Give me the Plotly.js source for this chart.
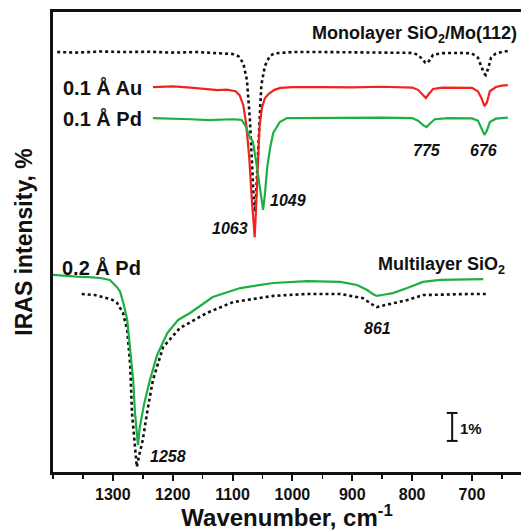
<!DOCTYPE html>
<html><head><meta charset="utf-8">
<script src="https://cdn.plot.ly/plotly-3.0.1.min.js"></script>
<style>html,body{margin:0;padding:0;overflow:hidden;background:#fff}</style>
</head><body><div id="chart" style="width:521px;height:531px"></div>
<script>
// Wavenumber (cm^-1) and intensity (% , offset stacked)
const monoX = [1393,1360,1320,1280,1240,1200,1160,1120,1100,1090,1082,1076,1071,1067,1064,1062,1059,1056,1052,1046,1038,1030,1000,950,900,850,800,790,783,778,775,771,765,750,720,700,690,684,680,677,673,668,660,650,640];
const monoY = [15.00,14.98,15.02,15.00,15.01,14.98,15.00,14.97,14.93,14.85,14.6,14.0,12.6,10.8,9.5,9.3,10.6,12.3,13.8,14.5,14.85,14.95,15.0,15.0,15.0,14.98,14.97,14.9,14.75,14.62,14.6,14.7,14.9,14.96,14.97,14.95,14.8,14.5,14.25,14.18,14.4,14.8,14.95,15.0,15.04];

const auX = [1233,1200,1170,1140,1125,1110,1095,1088,1082,1077,1072,1068,1065,1063,1061,1058,1055,1051,1046,1040,1030,1020,1000,950,900,850,800,790,783,777,772,765,750,720,700,690,684,679,675,670,660,650,640];
const auY = [13.75,13.77,13.73,13.68,13.64,13.66,13.6,13.45,13.1,12.4,11.2,9.8,8.8,8.39,9.3,11.0,12.3,13.0,13.35,13.5,13.65,13.72,13.75,13.75,13.74,13.76,13.73,13.65,13.5,13.36,13.5,13.68,13.73,13.74,13.72,13.6,13.35,13.07,13.2,13.6,13.75,13.8,13.82];

const pdX = [1233,1200,1170,1140,1120,1100,1085,1078,1072,1066,1060,1055,1051,1049,1046,1042,1037,1032,1021,1009,1000,950,900,850,800,790,782,776,770,762,740,700,690,684,679,675,670,660,640];
const pdY = [12.64,12.63,12.6,12.57,12.58,12.6,12.58,12.35,12.0,11.8,11.0,10.2,9.5,9.36,9.9,10.9,11.6,12.11,12.5,12.64,12.64,12.65,12.64,12.66,12.64,12.55,12.4,12.32,12.45,12.6,12.64,12.63,12.55,12.3,12.04,12.2,12.5,12.62,12.66];

const multiPdX = [1400,1380,1360,1340,1321,1305,1293,1288,1282,1276,1271,1266,1263,1260,1258,1255,1248,1238,1226,1209,1191,1171,1133,1087,1032,975,920,892,875,865,859,848,832,808,782,753,720,681];
const multiPdY = [7.04,7.0,6.98,6.96,6.93,6.86,6.6,6.45,6.0,5.43,4.4,3.29,2.1,1.3,0.96,1.6,2.4,3.29,4.18,4.96,5.43,5.68,6.25,6.57,6.75,6.82,6.79,6.68,6.5,6.35,6.29,6.33,6.39,6.57,6.79,6.86,6.88,6.89];

const multiX = [1352,1330,1310,1300,1293,1283,1276,1271,1268,1263,1260,1256,1250,1243,1233,1216,1188,1143,1099,1032,975,920,882,868,859,848,837,808,782,740,700,675];
const multiY = [6.36,6.32,6.21,6.14,6.04,5.68,5.07,3.82,2.1,0.89,0.18,0.6,1.14,2.1,3.29,4.46,5.14,5.68,6.07,6.29,6.36,6.36,6.21,6.0,5.89,5.95,6.0,6.14,6.32,6.35,6.36,6.36];

const majorTicks = [1300,1200,1100,1000,900,800,700];
const minorTicks = [1400,1350,1250,1150,1050,950,850,750,650];

const FONT = 'Liberation Sans, Arial, sans-serif';
const red = '#f0231e', green = '#1fae45';

const traces = [
  {x: monoX, y: monoY, mode:'lines', line:{color:'#111', width:2.6, dash:'dot'}},
  {x: auX, y: auY, mode:'lines', line:{color:red, width:2.2}},
  {x: pdX, y: pdY, mode:'lines', line:{color:green, width:2.2}},
  {x: multiX, y: multiY, mode:'lines', line:{color:'#111', width:2.6, dash:'dot'}},
  {x: multiPdX, y: multiPdY, mode:'lines', line:{color:green, width:2.2}}
];

function lab(text, x, y, size, opts) {
  return Object.assign({text:text, x:x, y:y, xref:'x', yref:'y', showarrow:false,
    font:{family:FONT, size:size, color:'#111', weight:'bold'}}, opts||{});
}
const ital = (t,x,y)=>lab(t,x,y,16,{font:{family:FONT,size:16,color:'#111',weight:'bold',style:'italic'}});

const layout = {
  width:521, height:531,
  margin:{l:53, r:0, t:12, b:59},
  paper_bgcolor:'#fff', plot_bgcolor:'#fff',
  showlegend:false,
  xaxis:{range:[1400,618], tickmode:'array', tickvals:majorTicks,
    ticks:'outside', ticklen:6, tickwidth:2, tickcolor:'#111',
    minor:{tickmode:'array', tickvals:minorTicks, ticks:'outside', ticklen:4, tickwidth:1.5, tickcolor:'#111'},
    showline:true, linecolor:'#111', linewidth:2.6, mirror:true,
    showgrid:false, zeroline:false,
    tickfont:{family:FONT, size:16, color:'#111', weight:'bold'},
    title:{text:'Wavenumber, cm<sup>-1</sup>', font:{family:FONT, size:24, color:'#111', weight:'bold'}, standoff:4}},
  yaxis:{range:[0,16.43], showline:true, linecolor:'#111', linewidth:2.6,
    showticklabels:false, ticks:'', showgrid:false, zeroline:false,
    title:{text:'IRAS intensity, %', font:{family:FONT, size:23, color:'#111', weight:'bold'}, standoff:12}},
  annotations:[
    lab('Monolayer SiO<sub>2</sub>/Mo(112)', 621, 15.61, 18, {xanchor:'right'}),
    lab('0.1 Å Au', 1387, 13.75, 20, {xanchor:'left'}),
    lab('0.1 Å Pd', 1387, 12.64, 20, {xanchor:'left'}),
    lab('0.2 Å Pd', 1389, 7.32, 20, {xanchor:'left'}),
    lab('Multilayer SiO<sub>2</sub>', 751, 7.39, 18),
    lab('1%', 701, 1.57, 15),
    ital('775', 775, 11.5),
    ital('676', 681, 11.5),
    ital('1049', 1007, 9.71),
    ital('1063', 1104, 8.71),
    ital('861', 857, 5.14),
    ital('1258', 1208, 0.57)
  ],
  shapes:[
    {type:'line', xref:'x', yref:'y', x0:733, x1:733, y0:1.11, y1:2.11, line:{color:'#111', width:2}},
    {type:'line', xref:'x', yref:'y', x0:742, x1:724, y0:1.11, y1:1.11, line:{color:'#111', width:2}},
    {type:'line', xref:'x', yref:'y', x0:742, x1:724, y0:2.11, y1:2.11, line:{color:'#111', width:2}}
  ]
};
Plotly.newPlot('chart', traces, layout, {displayModeBar:false, staticPlot:true});
</script></body></html>
